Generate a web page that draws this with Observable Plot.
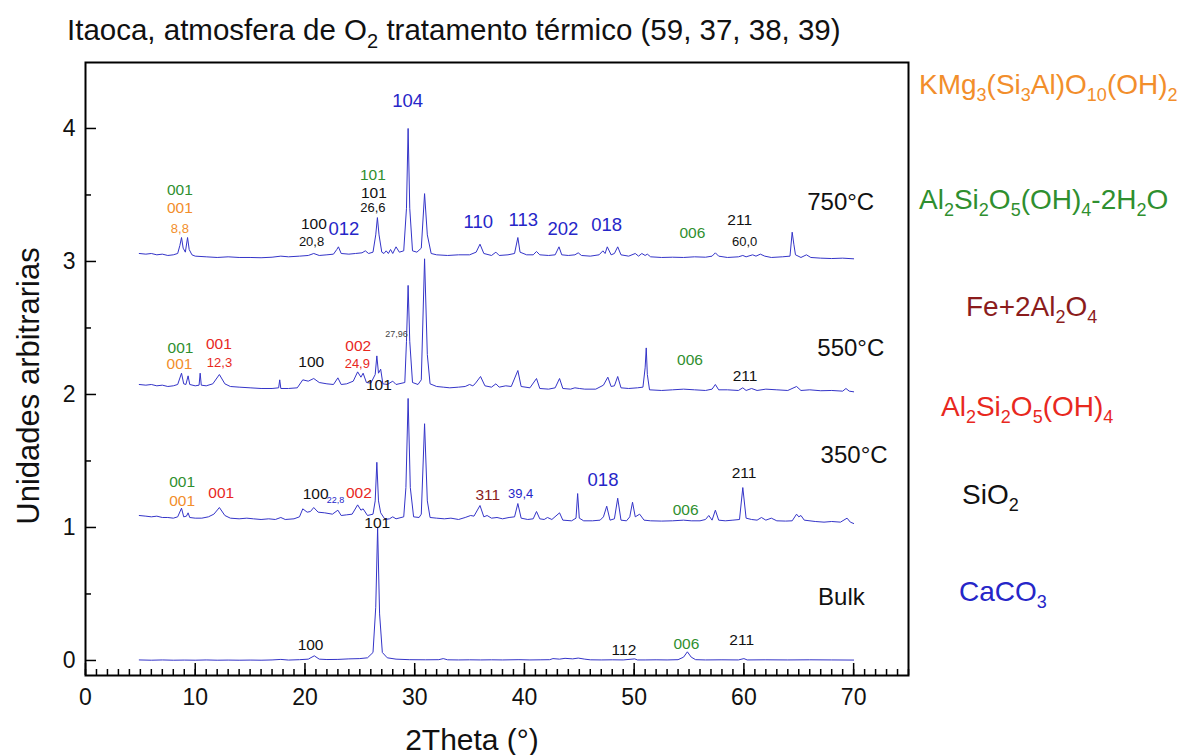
<!DOCTYPE html>
<html><head><meta charset="utf-8">
<script src="https://cdn.jsdelivr.net/npm/d3@7"></script>
<script src="https://cdn.jsdelivr.net/npm/@observablehq/plot@0.6"></script>
<style>body{margin:0;background:#fff;} svg{display:block;}</style>
</head><body><div id="chart"></div>
<script>
// ---------- data ----------
const bulk = [[4.9,0.004],[6,0.002],[7,0.004],[8,0.002],[9,0.003],[10,0.002],[11,0.004],[12,0.002],[13,0.003],[14,0.002],[15,0.003],[16,0.002],[17,0.004],[17.8,0.008],[18.5,0.003],[19.5,0.006],[20.3,0.01],[20.85,0.035],[21.3,0.01],[22,0.007],[23,0.008],[24,0.012],[25,0.014],[25.7,0.02],[26.2,0.06],[26.45,0.4],[26.62,1.0],[26.8,0.35],[27.05,0.06],[27.5,0.02],[28.3,0.01],[29.5,0.006],[31,0.005],[32.2,0.006],[32.6,0.014],[33,0.005],[34,0.004],[35,0.005],[36,0.004],[37,0.005],[38,0.004],[39.5,0.006],[40.5,0.004],[41.5,0.005],[42.3,0.006],[42.6,0.014],[43.2,0.01],[43.7,0.016],[44.4,0.012],[44.9,0.018],[45.5,0.01],[46,0.005],[47,0.004],[48,0.005],[49,0.004],[50.05,0.012],[50.3,0.004],[51,0.004],[52,0.005],[53,0.004],[54,0.006],[54.5,0.025],[54.85,0.065],[55.2,0.025],[55.6,0.006],[56.5,0.004],[58,0.005],[59.5,0.004],[60,0.014],[60.3,0.004],[62,0.005],[64,0.004],[66,0.005],[68,0.004],[70,0.003]];

const t350 = [[4.9,1.09],[5.5,1.085],[6,1.08],[6.5,1.085],[7,1.075],[7.5,1.075],[8,1.07],[8.4,1.08],[8.75,1.145],[8.95,1.08],[9.2,1.085],[9.35,1.11],[9.5,1.075],[10,1.07],[10.6,1.07],[11.2,1.08],[11.7,1.1],[12.2,1.15],[12.7,1.09],[13.2,1.07],[14,1.065],[14.7,1.07],[15.3,1.065],[16,1.06],[16.7,1.065],[17.3,1.06],[17.8,1.075],[18.2,1.06],[19,1.065],[19.5,1.08],[19.8,1.14],[20.2,1.115],[20.5,1.12],[20.8,1.15],[21.2,1.115],[21.8,1.11],[22.5,1.1],[23.0,1.13],[23.3,1.09],[23.8,1.095],[24.3,1.1],[24.8,1.17],[25.1,1.13],[25.3,1.14],[25.7,1.09],[26.2,1.1],[26.4,1.2],[26.55,1.49],[26.7,1.2],[26.9,1.11],[27.3,1.06],[27.7,1.065],[28.0,1.08],[28.3,1.065],[29.0,1.08],[29.2,1.3],[29.4,1.97],[29.6,1.3],[29.9,1.08],[30.4,1.075],[30.6,1.1],[30.9,1.78],[31.15,1.2],[31.4,1.075],[32,1.07],[32.7,1.065],[33.3,1.07],[34,1.06],[34.6,1.075],[35.1,1.09],[35.4,1.085],[35.95,1.165],[36.3,1.08],[36.6,1.09],[37.0,1.07],[37.5,1.075],[38.0,1.065],[38.6,1.075],[39.1,1.08],[39.4,1.18],[39.7,1.07],[40.3,1.06],[40.8,1.065],[41.1,1.12],[41.4,1.065],[41.8,1.06],[42.1,1.075],[42.5,1.06],[43.2,1.11],[43.5,1.055],[44.3,1.05],[44.7,1.07],[44.85,1.255],[45.0,1.07],[45.4,1.05],[46.2,1.05],[46.9,1.055],[47.2,1.08],[47.5,1.16],[47.8,1.055],[48.2,1.065],[48.5,1.22],[48.8,1.055],[49.3,1.05],[49.6,1.08],[49.85,1.19],[50.1,1.08],[50.5,1.1],[50.9,1.055],[51.5,1.05],[52.5,1.048],[53.5,1.05],[54.5,1.055],[55.2,1.05],[56,1.05],[56.5,1.06],[56.8,1.09],[57.1,1.055],[57.4,1.13],[57.7,1.055],[58.3,1.05],[59,1.055],[59.6,1.06],[59.9,1.3],[60.2,1.07],[60.7,1.06],[61.2,1.055],[61.6,1.075],[62,1.055],[62.5,1.07],[63,1.05],[63.8,1.048],[64.4,1.05],[64.8,1.1],[65.0,1.08],[65.2,1.09],[65.5,1.055],[66.5,1.045],[67.3,1.04],[68,1.045],[68.8,1.04],[69.4,1.07],[69.7,1.04],[70,1.03]];

const t550 = [[4.9,2.075],[5.5,2.07],[6,2.075],[6.5,2.065],[7,2.07],[7.5,2.06],[8,2.065],[8.4,2.075],[8.75,2.16],[8.95,2.08],[9.15,2.075],[9.35,2.14],[9.5,2.075],[10,2.065],[10.35,2.07],[10.45,2.16],[10.55,2.07],[11,2.065],[11.6,2.08],[12.2,2.15],[12.7,2.08],[13.2,2.06],[14,2.055],[15,2.05],[16,2.045],[17,2.045],[17.6,2.05],[17.7,2.11],[17.8,2.045],[18.5,2.045],[19.3,2.05],[19.8,2.11],[20.3,2.1],[20.8,2.12],[21.3,2.09],[22,2.08],[22.6,2.075],[23.0,2.125],[23.3,2.075],[23.8,2.08],[24.4,2.1],[24.8,2.17],[25.1,2.13],[25.3,2.16],[25.6,2.09],[26.0,2.085],[26.4,2.15],[26.55,2.29],[26.7,2.16],[26.9,2.19],[27.1,2.08],[27.5,2.075],[28.0,2.1],[28.3,2.075],[29.1,2.09],[29.25,2.4],[29.4,2.82],[29.55,2.4],[29.8,2.09],[30.3,2.075],[30.6,2.11],[30.9,3.02],[31.15,2.3],[31.4,2.08],[32,2.06],[32.6,2.055],[33.2,2.05],[34,2.055],[34.6,2.06],[35.0,2.075],[35.3,2.065],[35.5,2.08],[36.0,2.135],[36.4,2.065],[37.0,2.055],[37.4,2.08],[37.7,2.055],[38.3,2.065],[38.8,2.06],[39.4,2.18],[39.7,2.06],[40.5,2.05],[41.1,2.12],[41.4,2.045],[42.2,2.04],[42.8,2.05],[43.2,2.12],[43.5,2.045],[44.2,2.04],[44.6,2.05],[45,2.045],[45.5,2.04],[46.5,2.04],[47.2,2.07],[47.6,2.13],[47.9,2.06],[48.2,2.065],[48.5,2.135],[48.8,2.05],[49.5,2.045],[50.3,2.05],[50.8,2.055],[51.0,2.2],[51.1,2.35],[51.2,2.15],[51.4,2.035],[52.5,2.03],[53.5,2.035],[54.5,2.04],[55.5,2.035],[56.5,2.03],[57.1,2.04],[57.4,2.075],[57.7,2.035],[58.5,2.035],[59.5,2.03],[59.9,2.05],[60.2,2.03],[60.7,2.045],[61.2,2.03],[62,2.04],[63,2.035],[64,2.03],[64.8,2.06],[65.2,2.03],[66,2.035],[67,2.028],[68,2.03],[69,2.025],[69.3,2.045],[69.6,2.025],[70,2.02]];

const t750 = [[4.9,3.06],[5.5,3.055],[6,3.06],[6.5,3.05],[7,3.055],[7.5,3.045],[8,3.05],[8.4,3.06],[8.6,3.12],[8.75,3.18],[8.9,3.10],[9.1,3.07],[9.3,3.18],[9.45,3.09],[9.7,3.05],[10,3.04],[11,3.035],[12,3.03],[13,3.035],[14,3.03],[15,3.03],[16,3.028],[17,3.032],[17.8,3.04],[18.5,3.035],[19.5,3.04],[20.3,3.045],[20.8,3.06],[21.3,3.045],[22,3.05],[22.6,3.055],[22.9,3.09],[23.05,3.11],[23.3,3.06],[24,3.055],[24.6,3.06],[25.2,3.065],[25.5,3.08],[25.8,3.06],[26.2,3.07],[26.45,3.2],[26.6,3.33],[26.75,3.2],[27,3.07],[27.2,3.06],[27.4,3.08],[27.6,3.06],[27.8,3.09],[28.0,3.06],[28.3,3.11],[28.6,3.07],[29.0,3.08],[29.25,3.4],[29.4,4.0],[29.55,3.4],[29.8,3.08],[30.2,3.07],[30.6,3.1],[30.9,3.51],[31.15,3.2],[31.5,3.06],[32,3.05],[33,3.045],[34,3.05],[35,3.05],[35.6,3.07],[35.95,3.13],[36.3,3.06],[37,3.045],[37.4,3.07],[37.7,3.045],[38.5,3.05],[39.1,3.06],[39.4,3.18],[39.6,3.07],[40.2,3.05],[40.8,3.05],[41.1,3.075],[41.4,3.05],[42.2,3.045],[42.8,3.05],[43.15,3.11],[43.4,3.05],[44,3.045],[44.6,3.05],[44.9,3.065],[45.2,3.045],[46,3.04],[46.8,3.05],[47.15,3.08],[47.35,3.06],[47.55,3.11],[47.9,3.05],[48.2,3.06],[48.5,3.11],[48.8,3.05],[49.5,3.04],[50.1,3.06],[50.4,3.04],[50.7,3.06],[51,3.045],[51.2,3.055],[51.5,3.035],[52.5,3.03],[53.5,3.032],[54.5,3.03],[55.5,3.035],[56.5,3.032],[57.1,3.04],[57.4,3.065],[57.7,3.04],[58.5,3.03],[59.5,3.035],[59.9,3.045],[60.2,3.035],[60.8,3.05],[61.1,3.04],[61.5,3.055],[61.9,3.04],[62.5,3.03],[63.5,3.035],[64.2,3.04],[64.4,3.22],[64.55,3.13],[64.7,3.05],[65.2,3.03],[65.7,3.05],[66.1,3.03],[67,3.025],[68,3.022],[69,3.025],[70,3.02]];

const seriesNames = ["Bulk", "350°C", "550°C", "750°C"];
const seriesData = [bulk, t350, t550, t750];

const xTicksMajor = [0, 10, 20, 30, 40, 50, 60, 70];
const xTicksMinor = [0,1,2,3,4,5,6,7,8,9,10,11,12,13,14,15,16,17,18,19,20,21,22,23,24,25,26,27,28,29,30,31,32,33,34,35,36,37,38,39,40,41,42,43,44,45,46,47,48,49,50,51,52,53,54,55,56,57,58,59,60,61,62,63,64,65,66,67,68,69,70,71,72,73,74,75];
const yTicksMajor = [0, 1, 2, 3, 4];
const yTicksMinor = [0.5, 1.5, 2.5, 3.5];

// peak annotations: [text, 2theta, offset intensity, phase, kind]
const peakLabels = [
  ["001", 8.60, 3.534, "kaolH2O", "hkl"],
  ["001", 8.60, 3.401, "phlog", "hkl"],
  ["8,8", 8.60, 3.248, "phlog", "val"],
  ["100", 20.81, 3.278, "quartz", "hkl"],
  ["20,8", 20.60, 3.150, "quartz", "val"],
  ["012", 23.55, 3.241, "calcite", "hklCa"],
  ["101", 26.19, 3.647, "kaolH2O", "hkl"],
  ["101", 26.28, 3.517, "quartz", "hkl"],
  ["26,6", 26.19, 3.401, "quartz", "val"],
  ["104", 29.35, 4.203, "calcite", "hklCa"],
  ["110", 35.80, 3.295, "calcite", "hklCa"],
  ["113", 39.90, 3.308, "calcite", "hklCa"],
  ["202", 43.51, 3.241, "calcite", "hklCa"],
  ["018", 47.49, 3.271, "calcite", "hklCa"],
  ["006", 55.31, 3.213, "kaolH2O", "hkl"],
  ["211", 59.62, 3.314, "quartz", "hkl"],
  ["60,0", 60.07, 3.150, "quartz", "val"],
  ["750°C", 68.82, 3.446, "quartz", "temp"],

  ["001", 8.66, 2.352, "kaolH2O", "hkl"],
  ["001", 8.57, 2.226, "phlog", "hkl"],
  ["001", 12.15, 2.381, "kaol", "hkl"],
  ["12,3", 12.21, 2.235, "kaol", "val"],
  ["100", 20.57, 2.243, "quartz", "hkl"],
  ["002", 24.86, 2.362, "kaol", "hkl"],
  ["24,9", 24.77, 2.232, "kaol", "val"],
  ["27,96", 28.35, 2.451, "grey", "tiny"],
  ["101", 26.74, 2.068, "quartz", "hkl"],
  ["006", 55.09, 2.256, "kaolH2O", "hkl"],
  ["211", 60.10, 2.138, "quartz", "hkl"],
  ["550°C", 69.74, 2.344, "quartz", "temp"],

  ["001", 8.81, 1.341, "kaolH2O", "hkl"],
  ["001", 8.81, 1.198, "phlog", "hkl"],
  ["001", 12.37, 1.261, "kaol", "hkl"],
  ["100", 20.97, 1.253, "quartz", "hkl"],
  ["22,8", 22.79, 1.203, "calcite", "tiny"],
  ["002", 24.91, 1.261, "kaol", "hkl"],
  ["101", 26.59, 1.035, "quartz", "hkl"],
  ["311", 36.66, 1.247, "spinel", "hkl"],
  ["39,4", 39.65, 1.253, "calcite", "val"],
  ["018", 47.16, 1.353, "calcite", "hklCa"],
  ["006", 54.69, 1.133, "kaolH2O", "hkl"],
  ["211", 60.01, 1.408, "quartz", "hkl"],
  ["350°C", 70.04, 1.541, "quartz", "temp"],

  ["100", 20.51, 0.118, "quartz", "hkl"],
  ["112", 49.07, 0.080, "quartz", "hkl"],
  ["006", 54.76, 0.126, "kaolH2O", "hkl"],
  ["211", 59.80, 0.150, "quartz", "hkl"],
  ["Bulk", 68.89, 0.476, "quartz", "temp"]
];

// phase legend (formula pieces: [text, isSubscript])
const phaseOrder = ["phlog", "kaolH2O", "spinel", "kaol", "quartz", "calcite"];
const phaseFormulas = [
  [["KMg",0],["3",1],["(Si",0],["3",1],["Al)O",0],["10",1],["(OH)",0],["2",1]],
  [["Al",0],["2",1],["Si",0],["2",1],["O",0],["5",1],["(OH)",0],["4",1],["-2H",0],["2",1],["O",0]],
  [["Fe+2Al",0],["2",1],["O",0],["4",1]],
  [["Al",0],["2",1],["Si",0],["2",1],["O",0],["5",1],["(OH)",0],["4",1]],
  [["SiO",0],["2",1]],
  [["CaCO",0],["3",1]]
];
const titleParts = [["Itaoca, atmosfera de O",0],["2",1],[" tratamento térmico (59, 37, 38, 39)",0]];
const xLabel = "2Theta (°)";
const yLabel = "Unidades arbitrarias";

// ---------- styles ----------
const FONT = "'Liberation Sans', Arial, Helvetica, sans-serif";
const phaseColor = {phlog: "#f28e2b", kaolH2O: "#2f8f2f", spinel: "#8b1c1c", kaol: "#e8281e", quartz: "#111111", calcite: "#2626c8", grey: "#444444"};
const kindSize = {hkl: 15.5, hklCa: 18.5, val: 13, tiny: 9, temp: 24};
const legendPos = [[919, 94], [919, 209], [966, 316], [941, 416], [962, 504], [959, 601]];

const lineRows = seriesData.flatMap((arr, i) => arr.map(([x, y]) => ({x, y, s: seriesNames[i]})));
const labelRows = peakLabels.map(([text, x, y, phase, kind]) => ({text, x, y, fill: phaseColor[phase], size: kindSize[kind]}));

const chart = Plot.plot({
  width: 1189, height: 755,
  marginLeft: 85, marginRight: 281, marginTop: 62, marginBottom: 80,
  style: {fontFamily: FONT, background: "#fff", color: "#000"},
  x: {domain: [0, 75], label: null},
  y: {domain: [-0.113, 4.496], label: null},
  color: {type: "identity"},
  marks: [
    Plot.line(lineRows, {x: "x", y: "y", z: "s", stroke: "#3434c8", strokeWidth: 1}),
    Plot.text(labelRows, {x: "x", y: "y", text: "text", fill: "fill", fontSize: "size", textAnchor: "middle", lineAnchor: "middle"}),
    Plot.axisX({ticks: xTicksMinor, tickSize: -6, tickFormat: () => "", label: null, strokeWidth: 1.5}),
    Plot.axisX({ticks: xTicksMajor, tickSize: -12, tickFormat: () => "", label: null, strokeWidth: 1.5}),
    Plot.axisY({ticks: yTicksMinor, tickSize: -6, tickFormat: () => "", label: null, strokeWidth: 1.5}),
    Plot.axisY({ticks: yTicksMajor, tickSize: -11, tickFormat: () => "", label: null, strokeWidth: 1.5}),
    // tick labels
    Plot.text(xTicksMajor, {x: d => d, frameAnchor: "bottom", dy: 13, lineAnchor: "top", text: d => String(d), fontSize: 23, fill: "#111"}),
    Plot.text(yTicksMajor, {y: d => d, frameAnchor: "left", dx: -10, textAnchor: "end", lineAnchor: "middle", text: d => String(d), fontSize: 23, fill: "#111"}),
    Plot.frame({stroke: "#000", strokeWidth: 2})
  ]
});

const svg = d3.select(chart);
function richText(parts, x, y, size, subSize, shift, color, anchor) {
  const t = svg.append("text").attr("x", x).attr("y", y).attr("fill", color)
    .attr("text-anchor", anchor || "start")
    .style("font-family", FONT).style("font-size", size + "px").style("white-space", "pre");
  let down = false;
  for (const [s, sub] of parts) {
    const ts = t.append("tspan").text(s);
    if (sub) { ts.style("font-size", subSize + "px"); if (!down) { ts.attr("dy", shift); down = true; } }
    else if (down) { ts.attr("dy", -shift); down = false; }
  }
  return t;
}
phaseFormulas.forEach((parts, i) => {
  const [px, py] = legendPos[i];
  richText(parts, px, py, 28, 18, 7, phaseColor[phaseOrder[i]]);
});
richText(titleParts, 67, 40, 29.5, 20, 8, "#111");
svg.append("text").attr("x", 472).attr("y", 750).attr("text-anchor", "middle")
  .style("font-family", FONT).style("font-size", "30px").attr("fill", "#111").text(xLabel);
svg.append("text").attr("transform", "translate(39,386) rotate(-90)").attr("text-anchor", "middle")
  .style("font-family", FONT).style("font-size", "31px").attr("fill", "#111").text(yLabel);

document.getElementById("chart").appendChild(chart);
</script>
</body></html>
